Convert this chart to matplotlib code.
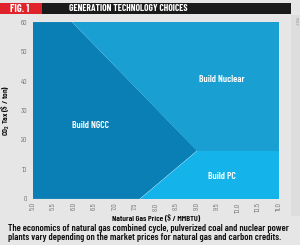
import matplotlib
matplotlib.use("Agg")
import matplotlib.pyplot as plt
from matplotlib.patches import Polygon, Rectangle

# data
gas_price_ticks = [5.0, 5.5, 6.0, 6.5, 7.0, 7.5, 8.0, 8.5, 9.0, 9.5, 10.0, 10.5, 11.0]
co2_ticks = [0, 10, 20, 30, 40, 50, 60]

# NGCC / other boundary: (gas price, co2 tax)
boundary_x = [5.95, 9.0, 7.6]
boundary_y = [60, 16.4, 0]
pc_nuclear_split = 16.4

regions = {
    "Build NGCC": [(5.0, 0), (5.0, 60), (boundary_x[0], boundary_y[0]),
                   (boundary_x[1], boundary_y[1]), (boundary_x[2], boundary_y[2])],
    "Build Nuclear": [(boundary_x[0], boundary_y[0]), (11.0, 60), (11.0, pc_nuclear_split),
                      (boundary_x[1], boundary_y[1])],
    "Build PC": [(boundary_x[1], boundary_y[1]), (11.0, pc_nuclear_split), (11.0, 0),
                 (boundary_x[2], boundary_y[2])],
}
colors = {"Build NGCC": "#0a7fb5", "Build Nuclear": "#199fd2", "Build PC": "#14b4ea"}
label_pos = {"Build NGCC": (6.4, 25), "Build Nuclear": (9.6, 40.6), "Build PC": (9.6, 7.5)}

cond = ["Barlow Condensed", "DejaVu Sans"]
plt.rcParams["mathtext.fontset"] = "custom"
plt.rcParams["mathtext.rm"] = "Barlow Condensed:semibold"
plt.rcParams["mathtext.it"] = "Barlow Condensed:semibold"
bg = "#e6e6e6"

fig = plt.figure(figsize=(3.0, 2.45), dpi=100, facecolor=bg)
ax = fig.add_axes([0.11, 0.188, 0.82, 0.722])

for name, pts in regions.items():
    ax.add_patch(Polygon(pts, closed=True, facecolor=colors[name], edgecolor="none"))
    x, y = label_pos[name]
    ax.text(x, y, name, color="white", fontsize=7, fontweight="semibold",
            family=cond, ha="center", va="center")

ax.set_xlim(5.0, 11.0)
ax.set_ylim(0, 60)
ax.set_xticks(gas_price_ticks)
ax.set_xticklabels([f"{v:.1f}" for v in gas_price_ticks], rotation=90,
                   fontsize=5.5, family=cond, color="#777777")
ax.set_yticks(co2_ticks)
ax.set_yticklabels([str(v) for v in co2_ticks], fontsize=5.5, family=cond, color="#777777")
ax.tick_params(axis="x", length=0, pad=2.5)
ax.tick_params(axis="y", length=0, pad=4)
for s in ax.spines.values():
    s.set_visible(False)
ax.set_xlabel("Natural Gas Price ($ / MMBTU)", fontsize=6, family=cond,
              fontweight="semibold", labelpad=1)
ax.set_ylabel(r"CO$_2$ Tax (\$ / ton)", fontsize=6, family=cond,
              fontweight="semibold", labelpad=6)

# header band
fig.patches.append(Rectangle((0.0, 1 - 14 / 245), 42 / 300, 11 / 245,
                             transform=fig.transFigure, facecolor="#e0222a", edgecolor="none"))
fig.patches.append(Rectangle((42 / 300, 1 - 14 / 245), 249 / 300, 11 / 245,
                             transform=fig.transFigure, facecolor="#1a1a1a", edgecolor="none"))
fig.text(20 / 300, 1 - 8.5 / 245, "FIG. 1", color="white", fontsize=7.5, fontweight="bold",
         family=cond, ha="center", va="center")
fig.text(69 / 300, 1 - 8.5 / 245, "GENERATION TECHNOLOGY CHOICES", color="white",
         fontsize=6.8, fontweight="bold", family=cond, ha="left", va="center")
fig.patches.append(Rectangle((291 / 300, 0.12), 9 / 300, 0.82, transform=fig.transFigure,
                             facecolor="#dddddd", edgecolor="none"))
fig.text(296 / 300, 0.93, "POWER", color="#999999", fontsize=2.5, rotation=270,
         family=cond, ha="center", va="top")

fig.text(8 / 300, 1 - 233 / 245,
         "The economics of natural gas combined cycle, pulverized coal and nuclear power\n"
         "plants vary depending on the market prices for natural gas and carbon credits.",
         fontsize=7, fontweight="semibold", family=cond, ha="left", va="center",
         linespacing=1.05, color="#111111")

fig.savefig("out.png", dpi=100, facecolor=bg)
